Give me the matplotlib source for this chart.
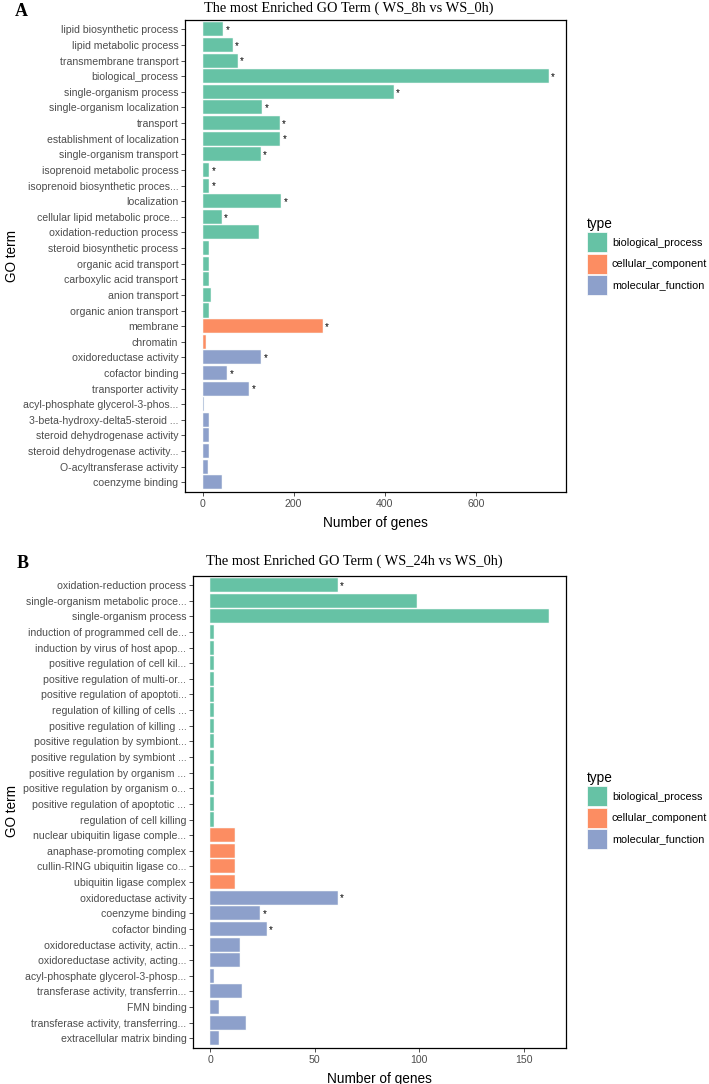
import matplotlib
matplotlib.use("Agg")
import matplotlib.pyplot as plt
from matplotlib.patches import Patch
import numpy as np

# ---------------- data ----------------
terms_a = [
    "lipid biosynthetic process", "lipid metabolic process", "transmembrane transport",
    "biological_process", "single-organism process", "single-organism localization",
    "transport", "establishment of localization", "single-organism transport",
    "isoprenoid metabolic process", "isoprenoid biosynthetic proces...", "localization",
    "cellular lipid metabolic proce...", "oxidation-reduction process",
    "steroid biosynthetic process", "organic acid transport", "carboxylic acid transport",
    "anion transport", "organic anion transport", "membrane", "chromatin",
    "oxidoreductase activity", "cofactor binding", "transporter activity",
    "acyl-phosphate glycerol-3-phos...", "3-beta-hydroxy-delta5-steroid ...",
    "steroid dehydrogenase activity", "steroid dehydrogenase activity...",
    "O-acyltransferase activity", "coenzyme binding",
]
values_a = [45, 66, 77, 760, 420, 131, 170, 171, 128, 15, 15, 173, 42, 123,
            15, 13, 13, 19, 13, 264, 8, 129, 54, 102, 4, 15, 15, 15, 11, 42]
types_a = (["biological_process"] * 19 + ["cellular_component"] * 2
           + ["molecular_function"] * 9)
stars_a = [1, 1, 1, 1, 1, 1, 1, 1, 1, 1, 1, 1, 1, 0, 0, 0, 0, 0, 0, 1, 0,
           1, 1, 1, 0, 0, 0, 0, 0, 0]

terms_b = [
    "oxidation-reduction process", "single-organism metabolic proce...",
    "single-organism process", "induction of programmed cell de...",
    "induction by virus of host apop...", "positive regulation of cell kil...",
    "positive regulation of multi-or...", "positive regulation of apoptoti...",
    "regulation of killing of cells ...", "positive regulation of killing ...",
    "positive regulation by symbiont...", "positive regulation by symbiont ...",
    "positive regulation by organism ...", "positive regulation by organism o...",
    "positive regulation of apoptotic ...", "regulation of cell killing",
    "nuclear ubiquitin ligase comple...", "anaphase-promoting complex",
    "cullin-RING ubiquitin ligase co...", "ubiquitin ligase complex",
    "oxidoreductase activity", "coenzyme binding", "cofactor binding",
    "oxidoreductase activity, actin...", "oxidoreductase activity, acting...",
    "acyl-phosphate glycerol-3-phosp...", "transferase activity, transferrin...",
    "FMN binding", "transferase activity, transferring...", "extracellular matrix binding",
]
values_b = [61, 99, 162, 2, 2, 2, 2, 2, 2, 2, 2, 2, 2, 2, 2, 2,
            12, 12, 12, 12, 61, 24, 27, 14, 14, 2, 15, 4, 17, 4]
types_b = (["biological_process"] * 16 + ["cellular_component"] * 4
           + ["molecular_function"] * 10)
stars_b = [1, 0, 0, 0, 0, 0, 0, 0, 0, 0, 0, 0, 0, 0, 0, 0, 0, 0, 0, 0,
           1, 1, 1, 0, 0, 0, 0, 0, 0, 0]

type_names = ["biological_process", "cellular_component", "molecular_function"]
palette = {"biological_process": "#66C2A5", "cellular_component": "#FC8D62",
           "molecular_function": "#8DA0CB"}

titles = ["The most Enriched GO Term ( WS_8h vs WS_0h)",
          "The most Enriched GO Term ( WS_24h vs WS_0h)"]

# ---------------- figure ----------------
W, H = 709, 1084
fig = plt.figure(figsize=(W / 100, H / 100), dpi=100)
plt.rcParams['font.family'] = ['Liberation Sans', 'DejaVu Sans']

LAB = 7.6


def px_axes(l, t, r, b):
    return fig.add_axes([l / W, 1 - b / H, (r - l) / W, (b - t) / H])


def draw_panel(ax, terms, values, types, stars, ticks, xlim):
    n = len(terms)
    pos = np.arange(n)
    cols = [palette[t] for t in types]
    ax.barh(pos, values, height=0.9, color=cols, edgecolor="#F4F9F7", linewidth=0.35)
    off = (xlim[1] - xlim[0]) * 0.006
    for p, v, s in zip(pos, values, stars):
        if s:
            ax.text(v + off, p + 0.05, "*", ha="left", va="center", fontsize=7,
                    color="black")
    ax.set_ylim(n - 0.4, -0.6)
    ax.set_xlim(*xlim)
    ax.set_yticks(pos)
    ax.set_yticklabels(terms, fontsize=LAB, color="#4D4D4D")
    ax.set_xticks(ticks)
    ax.set_xticklabels([str(t) for t in ticks], fontsize=LAB, color="#4D4D4D")
    ax.tick_params(axis="both", length=3, width=0.6, color="#333333", pad=2)
    for sp in ax.spines.values():
        sp.set_color("black")
        sp.set_linewidth(0.9)
    ax.set_xlabel("Number of genes", fontsize=9.8, color="black", labelpad=5)


ax_a = px_axes(185.3, 20, 566, 491.7)
draw_panel(ax_a, terms_a, values_a, types_a, stars_a, [0, 200, 400, 600], (-38, 798))

ax_b = px_axes(193.3, 575.7, 566, 1047.7)
draw_panel(ax_b, terms_b, values_b, types_b, stars_b, [0, 50, 100, 150], (-8.1, 170.1))

# y-axis titles
for ycen in (256, 811):
    fig.text(12 / W, 1 - ycen / H, "GO term", fontsize=9.8, rotation=90,
             ha="center", va="center", color="black")

# titles and panel letters
fig.text(204 / W, 1 - 12 / H, titles[0], fontsize=10.4, family="Liberation Serif",
         ha="left", va="baseline")
fig.text(206.5 / W, 1 - 565 / H, titles[1], fontsize=10.4, family="Liberation Serif",
         ha="left", va="baseline")
fig.text(15 / W, 1 - 16 / H, "A", fontsize=13, family="Liberation Serif",
         fontweight="bold", ha="left", va="baseline")
fig.text(17 / W, 1 - 568 / H, "B", fontsize=13, family="Liberation Serif",
         fontweight="bold", ha="left", va="baseline")

handles = [Patch(facecolor=palette[t], edgecolor="white", linewidth=0.5, label=t)
           for t in type_names]
for ycen in (256, 810):
    leg = fig.legend(handles=handles, title="type", loc="center left",
                     bbox_to_anchor=(587 / W, 1 - ycen / H), frameon=False,
                     fontsize=7.8, title_fontsize=9.8, handlelength=1.85,
                     handleheight=2.45, labelspacing=0.12, handletextpad=0.45,
                     borderpad=0.0, borderaxespad=0.0)
    leg._legend_box.align = "left"

fig.savefig("out.png", dpi=100)
